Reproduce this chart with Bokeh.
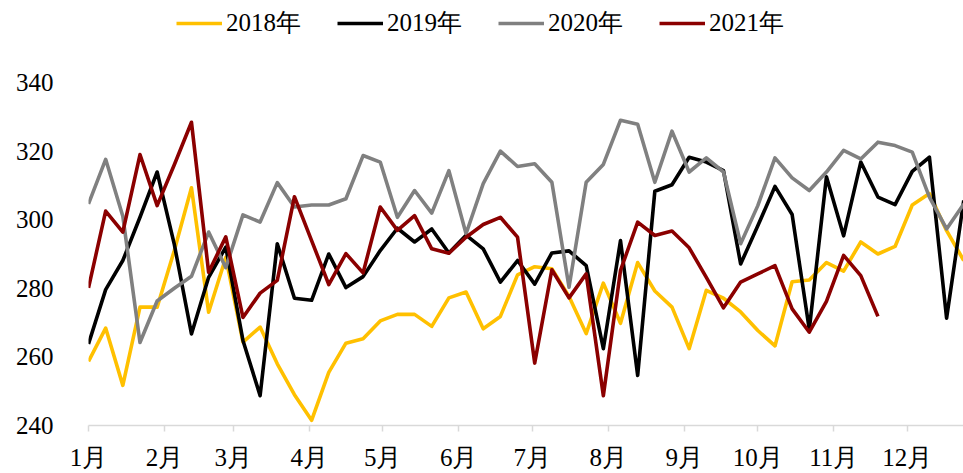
from bokeh.plotting import figure
from bokeh.models import Range1d, FixedTicker, Legend, LegendItem
from bokeh.embed import file_html
from bokeh.resources import INLINE

month_labels = ["1月", "2月", "3月", "4月", "5月", "6月", "7月", "8月", "9月", "10月", "11月", "12月"]
month_start_day = [0, 31, 59, 90, 120, 151, 181, 212, 243, 273, 304, 334]
y_ticks = [240, 260, 280, 300, 320, 340]

y2018 = [258.7, 268.4, 251.7, 274.5, 274.5, 291.0, 309.3, 273.0, 289.0, 264.3,
         268.7, 258.0, 249.0, 241.5, 255.5, 264.0, 265.3, 270.5, 272.4, 272.4,
         268.9, 277.2, 278.9, 268.2, 271.8, 283.9, 286.3, 285.7, 277.6, 266.8,
         281.5, 269.8, 287.5, 279.2, 274.5, 262.4, 279.4, 277.1, 273.1, 267.7,
         263.2, 281.9, 282.4, 287.5, 285.0, 293.5, 290.0, 292.2, 304.3, 307.6,
         296.8, 288.1]
y2019 = [263.8, 279.6, 288.1, 300.7, 313.9, 292.8, 266.7, 283.2, 292.0, 264.8,
         248.7, 293.0, 277.1, 276.5, 290.0, 280.2, 283.4, 291.0, 297.5, 293.5,
         297.3, 290.3, 295.5, 291.5, 281.8, 288.1, 281.2, 290.3, 290.9, 286.6,
         262.4, 293.9, 254.6, 308.3, 310.2, 318.2, 316.8, 314.3, 287.1, 298.2,
         309.7, 301.5, 268.0, 312.5, 295.3, 316.8, 306.6, 304.4, 314.1, 318.2,
         271.3, 305.6]
y2020 = [304.6, 317.6, 301.0, 264.2, 276.3, 280.0, 283.5, 296.4, 286.0, 301.4,
         299.3, 310.8, 303.7, 304.3, 304.3, 306.1, 318.7, 316.8, 300.7, 308.5,
         301.9, 314.3, 295.9, 310.5, 320.0, 315.5, 316.3, 310.9, 280.3, 310.9,
         316.1, 329.0, 327.8, 310.9, 325.8, 313.9, 318.0, 313.9, 293.0, 304.1,
         318.0, 312.2, 308.5, 313.9, 320.2, 317.7, 322.6, 321.6, 319.7, 306.6,
         297.3, 304.6]
y2021 = [280.1, 302.5, 296.4, 319.0, 304.1, 316.0, 328.4, 284.7, 295.0, 271.5,
         278.6, 282.3, 306.7, 293.9, 281.1, 290.1, 284.5, 303.7, 296.9, 301.2,
         291.5, 290.2, 294.9, 298.6, 300.7, 294.9, 258.2, 285.4, 277.2, 284.2,
         248.7, 285.2, 299.3, 295.4, 296.7, 291.8, 283.2, 274.3, 281.8, 284.2,
         286.6, 274.0, 267.2, 276.2, 289.6, 283.7, 271.8]

series = [("2018年", y2018, "#FFC000"),
          ("2019年", y2019, "#000000"),
          ("2020年", y2020, "#808080"),
          ("2021年", y2021, "#8B0000")]

FONT = "Liberation Serif"

# frame spans the full top of the page so the legend can sit inside it;
# 340 lands at y=82 and 240 at y=425 as in the reference
p = figure(width=963, height=473, output_backend="svg", toolbar_location=None,
           x_range=Range1d(0, 356.9), y_range=Range1d(240, 363.9),
           min_border_left=88, min_border_right=0, min_border_top=0,
           min_border_bottom=48)
p.outline_line_color = None
p.xgrid.visible = False
p.ygrid.visible = False
p.background_fill_color = "white"
p.border_fill_color = "white"

items = []
for name, vals, color in series:
    days = [7 * i for i in range(len(vals))]
    r = p.line(days, vals, line_color=color, line_width=3.6, line_join="round")
    items.append(LegendItem(label=name, renderers=[r]))

# x axis
xa = p.xaxis[0]
xa.ticker = FixedTicker(ticks=month_start_day)
xa.major_label_overrides = {d: lab for d, lab in zip(month_start_day, month_labels)}
xa.axis_line_color = "#D9D9D9"
xa.axis_line_width = 1.5
xa.major_tick_line_color = "#D9D9D9"
xa.major_tick_line_width = 1.5
xa.major_tick_in = 0
xa.major_tick_out = 6
xa.minor_tick_line_color = None
xa.major_label_standoff = 12
xa.major_label_text_font = FONT
xa.major_label_text_font_size = "25px"
xa.major_label_text_color = "black"

# y axis
ya = p.yaxis[0]
ya.ticker = FixedTicker(ticks=y_ticks)
ya.axis_line_color = None
ya.major_tick_line_color = None
ya.minor_tick_line_color = None
ya.major_tick_in = 0
ya.major_tick_out = 0
ya.major_label_standoff = 35
ya.major_label_text_font = FONT
ya.major_label_text_font_size = "25px"
ya.major_label_text_color = "black"

legend = Legend(items=items, orientation="horizontal", location=(88, 386),
                glyph_width=46, glyph_height=20, label_standoff=4, spacing=36,
                padding=0, margin=0, border_line_color=None,
                background_fill_alpha=0,
                label_text_font=FONT, label_text_font_size="25px",
                label_text_color="black")
p.add_layout(legend, "center")

open("out.html", "w").write(file_html(p, INLINE))
